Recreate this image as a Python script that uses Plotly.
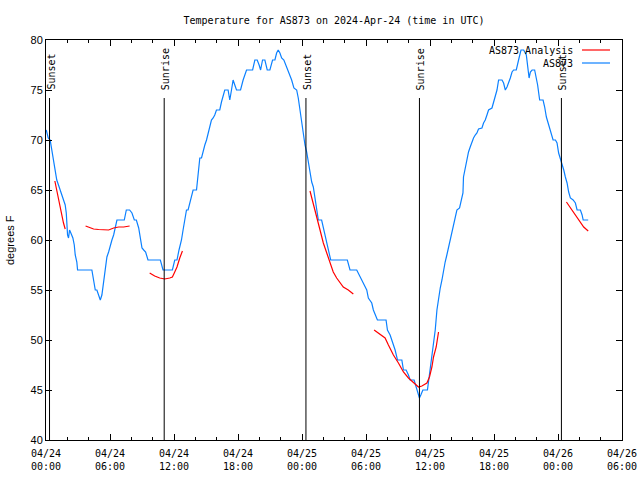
import plotly.graph_objects as go

# ---------------- data (hours since 2024-04-24 00:00 UTC) ----------------
obs_hours = [0.02, 0.21, 0.39, 0.54, 0.70, 0.86, 1.01, 1.17, 1.33, 1.48, 1.64, 1.80, 1.90, 1.95, 2.02,
             2.11, 2.21, 2.33, 2.52, 2.65, 2.74, 2.89, 2.96, 4.30, 4.46, 4.62, 4.77, 4.93, 5.09, 5.24,
             5.40, 5.56, 5.71, 5.87, 6.03, 6.18, 6.34, 6.50, 6.65, 7.34, 7.53, 7.84, 8.06, 8.28, 8.47,
             8.69, 8.85, 9.00, 9.16, 9.34, 9.56, 10.72, 10.97, 11.85, 12.07, 12.28, 12.47, 12.70, 12.85,
             13.01, 13.17, 13.32, 13.48, 13.64, 13.79, 14.11, 14.26, 14.35, 14.42, 14.58, 14.73, 14.89,
             15.05, 15.20, 15.35, 15.51, 15.67, 15.82, 15.98, 16.29, 16.45, 16.60, 16.76, 17.07, 17.23,
             17.39, 17.54, 17.70, 17.86, 18.24, 18.48, 18.80, 19.37, 19.58, 19.80, 19.98, 20.12, 20.30,
             20.52, 20.74, 20.99, 21.24, 21.46, 21.62, 21.77, 21.93, 22.09, 22.30, 22.49, 22.71, 22.87,
             23.03, 23.24, 23.50, 23.65, 23.81, 23.97, 24.12, 24.28, 24.44, 24.59, 24.75, 24.91, 25.06,
             25.22, 25.38, 25.53, 25.84, 26.00, 26.16, 26.31, 26.47, 26.69, 28.25, 28.50, 29.13, 29.44,
             29.75, 30.07, 30.22, 30.54, 30.69, 30.85, 31.07, 31.88, 32.01, 32.26, 32.51, 32.73, 32.95,
             33.36, 33.51, 33.76, 33.98, 34.14, 34.51, 34.82, 35.01, 35.14, 35.33, 35.76, 35.86, 36.02,
             36.18, 36.33, 36.49, 36.65, 36.80, 36.96, 37.12, 37.27, 37.42, 37.58, 37.73, 37.89, 38.05,
             38.20, 38.36, 38.52, 38.77, 38.90, 39.09, 39.14, 39.30, 39.46, 39.61, 39.77, 39.93, 40.08,
             40.24, 40.40, 40.55, 40.87, 41.02, 41.18, 41.34, 41.49, 41.81, 41.96, 42.12, 42.28, 42.43,
             42.75, 42.90, 43.06, 43.22, 43.37, 43.53, 43.69, 43.84, 44.09, 44.21, 44.37, 44.53, 44.78,
             45.03, 45.15, 45.29, 45.41, 45.57, 45.81, 45.97, 46.09, 46.28, 46.60, 46.75, 46.91, 47.13,
             47.29, 47.54, 47.76, 47.91, 48.06, 48.22, 48.38, 48.54, 48.69, 48.85, 49.00, 49.16, 49.42,
             49.63, 49.79, 50.10, 50.26, 50.36, 50.83]
obs_temps = [71, 70.2, 70, 69, 68, 67, 66, 65.5, 65, 64.7, 64, 63.5, 62.7, 61.3, 60.5,
             60.2, 61, 60.7, 60.2, 59.5, 58.5, 57.8, 57, 57, 56, 55, 55, 54.5, 54, 54.5,
             56, 57.3, 58.3, 58.8, 59.5, 60, 60.5, 61.3, 62, 62, 63, 63, 62.7, 62, 62,
             61.2, 60, 59.2, 59, 58.8, 58, 58, 57, 57, 58, 58, 59, 60, 61,
             62, 63, 63, 63.8, 64.5, 65, 65, 66.3, 67, 68.2, 68.2, 69, 69.5,
             70, 70.7, 71.2, 72, 72.2, 72.5, 73, 73, 73.8, 74.5, 75, 75, 74,
             75, 76, 75.5, 75, 75, 76, 77, 77, 78, 78, 77.5, 77, 78,
             78, 77, 77, 78, 78, 78.7, 79, 78.7, 78.2, 78, 77.5, 77, 76.5,
             76, 75.2, 75, 74.2, 73, 71.5, 70.5, 69.5, 68.8, 67.7, 66.7, 65.8, 65.3,
             64, 62.8, 62, 62, 61.3, 60.5, 59.8, 59.2, 58, 58, 57, 57, 56.3,
             55.7, 55, 54.2, 53.7, 53, 52.5, 52, 52, 51, 50.5, 49.8, 49, 48,
             48, 47, 47, 46.5, 46, 46, 45, 44.2, 44.5, 45, 45, 45.8, 46.7,
             48.3, 49.5, 51, 53, 54.3, 55.2, 56, 57, 57.8, 58.5, 59.2, 60, 60.7,
             61.3, 62, 63, 63.2, 63.8, 64.7, 66.3, 67.3, 68.3, 68.8, 69.3, 69.8, 70.2,
             70.5, 70.7, 71.1, 71.2, 71.7, 72, 72.5, 73, 73.2, 73.8, 74.3, 75, 76,
             76, 75.7, 75, 75.3, 75.7, 76.2, 76.8, 77, 77, 77.7, 78.3, 79, 79,
             78.5, 77.2, 76.2, 76.8, 77, 77, 76.3, 75.5, 74, 74, 73.3, 72.3, 71.5,
             70.8, 70, 70, 69.7, 68.7, 68.2, 67.5, 67, 66.3, 65.7, 64.8, 64.2, 64,
             63.7, 63, 63, 62.5, 62, 62]

ana_hours_1 = [0.83, 1.01, 1.17, 1.33, 1.48, 1.64, 1.80]
ana_temps_1 = [65.9, 65.0, 64.0, 63.2, 62.3, 61.7, 61.1]
ana_hours_2 = [3.71, 3.99, 4.46, 4.93, 5.40, 5.87, 6.34, 6.81, 7.28, 7.84]
ana_temps_2 = [61.4, 61.3, 61.1, 61.05, 61.0, 61.0, 61.2, 61.3, 61.3, 61.4]
ana_hours_3 = [9.72, 10.19, 10.66, 11.13, 11.60, 11.85, 12.07, 12.28, 12.54, 12.79]
ana_temps_3 = [56.7, 56.4, 56.2, 56.1, 56.2, 56.3, 56.8, 57.3, 58.2, 58.9]
ana_hours_4 = [24.75, 25.06, 25.38, 25.69, 26.00, 26.31, 26.62, 26.93, 27.25, 27.56, 27.87, 28.34, 28.81]
ana_temps_4 = [64.9, 63.7, 62.3, 61.0, 59.7, 58.7, 57.7, 56.8, 56.2, 55.7, 55.3, 55.0, 54.6]
ana_hours_5 = [30.76, 31.32, 31.79, 32.10, 32.57, 33.04, 33.51, 33.98, 34.45, 34.92, 35.24, 35.71,
               35.95, 36.18, 36.33, 36.58, 36.80]
ana_temps_5 = [51.0, 50.6, 50.2, 49.5, 48.5, 47.7, 46.8, 46.2, 45.7, 45.3, 45.4, 45.7,
               46.3, 47.3, 48.3, 49.3, 50.8]
ana_hours_6 = [48.79, 49.16, 49.47, 49.79, 50.10, 50.41, 50.83]
ana_temps_6 = [63.8, 63.2, 62.7, 62.2, 61.7, 61.3, 60.9]

sun_event_hours = [0.33, 11.08, 24.37, 35.01, 48.32]
sun_event_names = ["Sunset", "Sunrise", "Sunset", "Sunrise", "Sunset"]
sun_line_top = 74.2
sun_label_base = 74.8

x_tick_vals = [0, 6, 12, 18, 24, 30, 36, 42, 48, 54]
x_tick_text = ["04/24<br>00:00", "04/24<br>06:00", "04/24<br>12:00", "04/24<br>18:00",
               "04/25<br>00:00", "04/25<br>06:00", "04/25<br>12:00", "04/25<br>18:00",
               "04/26<br>00:00", "04/26<br>06:00"]
y_tick_vals = [40, 45, 50, 55, 60, 65, 70, 75, 80]

title_text = "Temperature for AS873 on 2024-Apr-24 (time in UTC)"
y_title = "degrees F"
series_names = ["AS873 Analysis", "AS873"]

# ---------------- build ----------------
ana_x, ana_y = [], []
for hs, ts in [(ana_hours_1, ana_temps_1), (ana_hours_2, ana_temps_2), (ana_hours_3, ana_temps_3),
               (ana_hours_4, ana_temps_4), (ana_hours_5, ana_temps_5), (ana_hours_6, ana_temps_6)]:
    ana_x += hs + [None]
    ana_y += ts + [None]

RED = "#ff0000"
BLUE = "#0b80ff"
MONO = "DejaVu Sans Mono"
SANS = "Liberation Sans"

L, R, T, B = 46, 18, 40, 40
PW, PH = 640 - L - R, 480 - T - B

fig = go.Figure()
fig.add_trace(go.Scatter(x=obs_hours, y=obs_temps, mode="lines", name=series_names[1],
                         line=dict(color=BLUE, width=1.2), showlegend=False))
fig.add_trace(go.Scatter(x=ana_x, y=ana_y, mode="lines", name=series_names[0],
                         line=dict(color=RED, width=1.2), showlegend=False, connectgaps=False))

for h, name in zip(sun_event_hours, sun_event_names):
    fig.add_shape(type="line", x0=h, x1=h, y0=40, y1=sun_line_top, xref="x", yref="y",
                  line=dict(color="black", width=1))
    fig.add_annotation(x=h, y=sun_label_base, xref="x", yref="y", text=name, textangle=-90,
                       showarrow=False, xanchor="center", yanchor="bottom", xshift=1,
                       font=dict(family=MONO, size=10, color="black"))

# custom gnuplot-style legend (text right, sample line at far right)
for i, (name, col) in enumerate(zip(series_names, [RED, BLUE])):
    ypix = 50 + i * 13
    yp = 1 - (ypix - T) / PH
    fig.add_annotation(x=(575 - L) / PW, y=yp, xref="paper", yref="paper", text=name,
                       showarrow=False, xanchor="right", yanchor="middle",
                       font=dict(family=MONO, size=10, color="black"))
    fig.add_shape(type="line", xref="paper", yref="paper",
                  x0=(582 - L) / PW, x1=(610 - L) / PW, y0=yp, y1=yp,
                  line=dict(color=col, width=1.2))

# y-axis title as rotated annotation
fig.add_annotation(x=(10 - L) / PW, y=0.5, xref="paper", yref="paper", text=y_title,
                   textangle=-90, showarrow=False, xanchor="center", yanchor="middle",
                   font=dict(family=SANS, size=11, color="black"))

fig.update_layout(
    width=640, height=480,
    margin=dict(l=L, r=R, t=T, b=B, autoexpand=False),
    paper_bgcolor="white", plot_bgcolor="white",
    title=dict(text=title_text, x=0.5, xref="paper", xanchor="center", y=1 - 20 / 480, yanchor="middle",
               font=dict(family=MONO, size=10, color="black")),
    showlegend=False,
)
fig.update_xaxes(range=[0, 54], tickvals=x_tick_vals, ticktext=x_tick_text, automargin=False,
                 ticks="inside", ticklen=6, tickcolor="black", showline=True, linecolor="black",
                 linewidth=1, mirror="allticks", showgrid=False, zeroline=False,
                 ticklabelstandoff=4,
                 tickfont=dict(family=MONO, size=10, color="black"),
                 minor=dict(dtick=2, tick0=0, ticks="inside", ticklen=3, tickcolor="black", showgrid=False))
fig.update_yaxes(range=[40, 80], tickvals=y_tick_vals, ticks="inside", ticklen=6, tickcolor="black",
                 showline=True, linecolor="black", linewidth=1, mirror="allticks", showgrid=False,
                 zeroline=False, automargin=False,
                 tickfont=dict(family=SANS, size=11, color="black"))

fig.write_html("out.html", config={"displayModeBar": False},
               post_script="document.body.style.margin='0';document.body.style.overflow='hidden';")
